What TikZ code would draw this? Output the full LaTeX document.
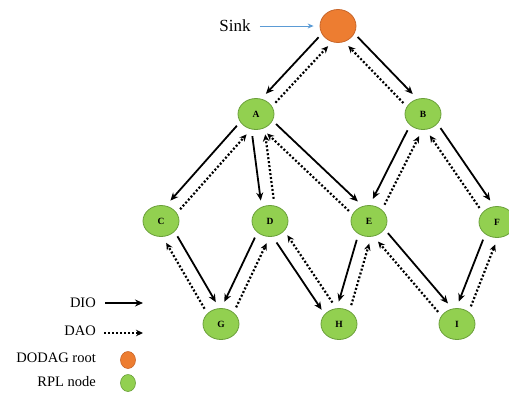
\documentclass[tikz,border=0pt]{standalone}
\usepackage{fontspec}
\setmainfont{Liberation Serif}
\usetikzlibrary{calc,arrows.meta,shapes.geometric}
\definecolor{nodegreen}{HTML}{92D050}
\definecolor{greenedge}{HTML}{6A9F3A}
\definecolor{rootorange}{HTML}{ED7D31}
\definecolor{orangeedge}{HTML}{C8662A}
\definecolor{sinkblue}{HTML}{5B9BD5}
\tikzset{
  rpl/.style={ellipse, draw=greenedge, fill=nodegreen, line width=0.8pt,
    minimum width=36pt, minimum height=31pt, inner sep=0pt,
    font=\bfseries\fontsize{9.5}{10}\selectfont},
  root/.style={ellipse, draw=orangeedge, fill=rootorange, line width=0.8pt,
    minimum width=36pt, minimum height=33pt, inner sep=0pt},
  dio/.style={-{Stealth[length=8pt,width=7pt]}, line width=1.8pt, black},
  dao/.style={-{Stealth[length=7pt,width=6.5pt]}, line width=2.2pt, black,
    dash pattern=on 2pt off 2pt},
  lbl/.style={font=\fontsize{14.5}{16}\selectfont, anchor=east, inner sep=0pt},
  legroot/.style={ellipse, draw=orangeedge, fill=rootorange, line width=0.6pt,
    minimum width=15pt, minimum height=17pt, inner sep=0pt},
  legrpl/.style={ellipse, draw=greenedge, fill=nodegreen, line width=0.6pt,
    minimum width=15pt, minimum height=17pt, inner sep=0pt},
}
\newcommand\sh{21.5pt}
\newcommand\off{6.5pt}
% #1 from, #2 to, #3 side angle of solid, #4 opposite angle
\newcommand\linkpair[4]{%
  \draw[dio] ($(#1)!\sh!(#2)!\off!#3:(#2)$) -- ($(#2)!\sh!(#1)!\off!#4:(#1)$);
  \draw[dao] ($(#2)!\sh!(#1)!\off!#3:(#1)$) -- ($(#1)!\sh!(#2)!\off!#4:(#2)$);
}
\begin{document}
\begin{tikzpicture}[x=1pt,y=-1pt]
\useasboundingbox (0,0) rectangle (509,392);
% nodes
\node[root] (sink) at (338,26) {};
\node[rpl] (A) at (256,114) {A};
\node[rpl] (B) at (423,114) {B};
\node[rpl] (C) at (161,221) {C};
\node[rpl] (D) at (270,221) {D};
\node[rpl] (E) at (369,221) {E};
\node[rpl] (F) at (497,222) {F};
\node[rpl] (G) at (221,324) {G};
\node[rpl] (H) at (339,324) {H};
\node[rpl] (I) at (457,324) {I};
% sink label
\node[font=\fontsize{17}{19}\selectfont, inner sep=0pt] (sinklbl) at (235,26) {Sink};
\draw[sinkblue, line width=0.9pt, -{Stealth[length=6pt,width=5pt]}, shorten <=9pt, shorten >=6pt] (sinklbl.east) -- (sink.west);
% links
\linkpair{sink}{A}{-90}{90}
\linkpair{sink}{B}{90}{-90}
\linkpair{A}{C}{-90}{90}
\linkpair{A}{D}{-90}{90}
\linkpair{A}{E}{90}{-90}
\linkpair{B}{E}{-90}{90}
\linkpair{B}{F}{90}{-90}
\linkpair{C}{G}{90}{-90}
\linkpair{D}{G}{-90}{90}
\linkpair{D}{H}{-90}{90}
\linkpair{E}{H}{-90}{90}
\linkpair{E}{I}{90}{-90}
\linkpair{F}{I}{-90}{90}
% legend
\node[lbl] (ldio) at (96,303) {DIO};
\node[lbl] (ldao) at (96,331) {DAO};
\node[lbl] (lroot) at (96,358) {DODAG root};
\node[lbl] (lrpl) at (96,382) {RPL node};
\coordinate (dioa) at (105,303);
\coordinate (diob) at (143,303);
\coordinate (daoa) at (104,333);
\coordinate (daob) at (143,333);
\draw[dio] (dioa) -- (diob);
\draw[dao] (daoa) -- (daob);
\node[legroot] (sroot) at (128,360) {};
\node[legrpl] (srpl) at (128,383) {};
\end{tikzpicture}
\end{document}
